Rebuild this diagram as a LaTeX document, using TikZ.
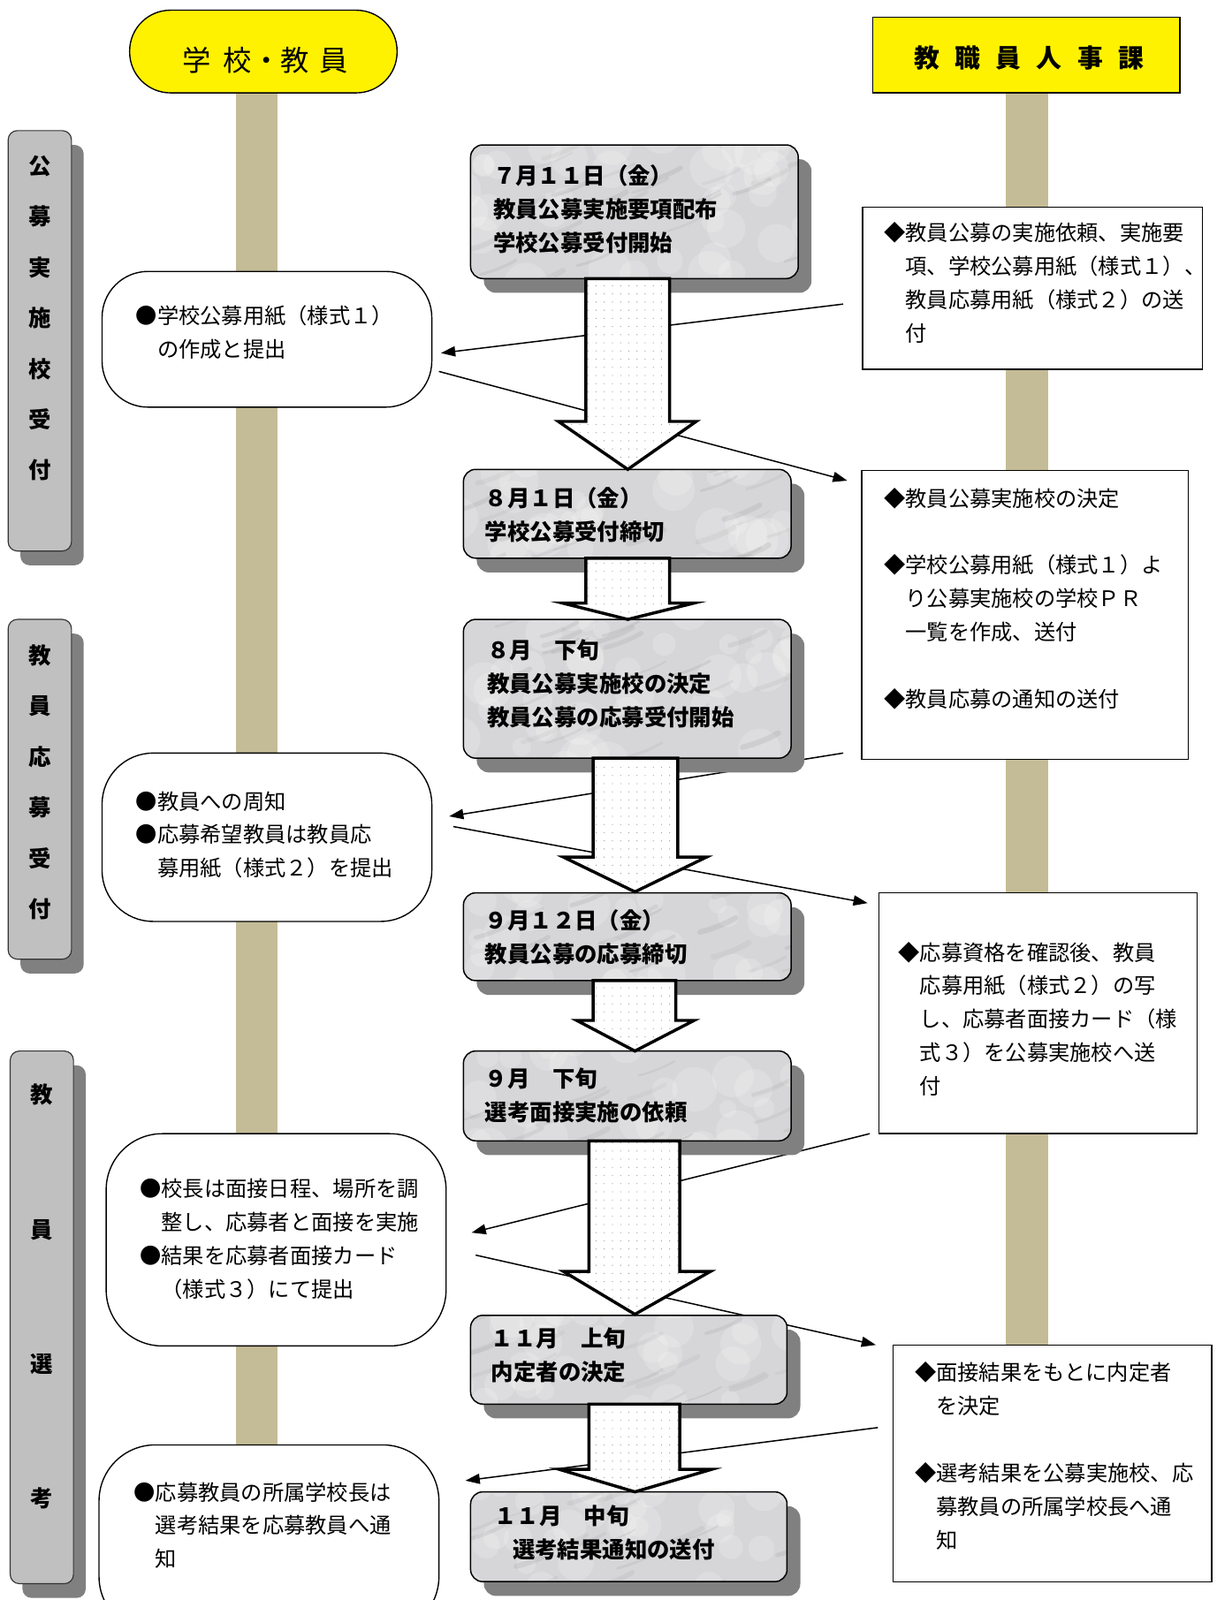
\documentclass[tikz,border=0pt]{standalone}
\usepackage{fontspec}
\setmainfont{Noto Sans CJK JP}
\usetikzlibrary{arrows.meta,shadows,patterns.meta,calc}
\definecolor{polecol}{RGB}{196,188,150}
\definecolor{labgray}{RGB}{192,192,192}
\definecolor{shadowgray}{RGB}{128,128,128}
\definecolor{marble}{RGB}{214,214,216}
\tikzset{
  hdr/.style={draw=black, line width=1.2pt, fill=yellow, inner sep=0pt},
  seclabel/.style={draw=black!80, line width=1pt, fill=labgray, rounded corners=9pt,
    drop shadow={shadow xshift=12pt, shadow yshift=-14pt, fill=shadowgray, opacity=1}},
  sectxt/.style={inner sep=0pt, align=center},
  cbox/.style={draw=black, line width=1.3pt, fill=marble, rounded corners=12pt,
    drop shadow={shadow xshift=13pt, shadow yshift=-14pt, fill=shadowgray, opacity=1},
    path picture={
      \begin{scope}[shift={(path picture bounding box.center)}]
        \foreach \k in {1,...,40}{
          \pgfmathsetmacro\bx{rand*175}
          \pgfmathsetmacro\by{rand*80}
          \pgfmathsetmacro\br{8+14*rnd}
          \fill[white, opacity=0.18] (\bx,\by) circle (\br pt);
        }
        \foreach \k in {1,...,30}{
          \pgfmathsetmacro\ax{rand*175}
          \pgfmathsetmacro\ay{rand*80}
          \pgfmathsetmacro\lw{1.5+4*rnd}
          \pgfmathtruncatemacro\gg{40+30*rnd}
          \draw[black!\gg, opacity=0.10, line width=\lw pt, line cap=round]
            (\ax,\ay) .. controls +(12,-3) and +(-10,6) .. +(35,-14);
        }
      \end{scope}
    }},
  sidebox/.style={draw=black, line width=1.2pt, fill=white, inner sep=0pt},
  bodytxt/.style={anchor=north west, inner sep=0pt, align=left, font=\fontsize{21}{32.8}\selectfont},
  headtxt/.style={anchor=north west, inner sep=0pt, align=left, font=\fontsize{22}{33}\selectfont\bfseries},
  conn/.style={line width=1.3pt, -{Triangle[length=14pt,width=10pt]}},
  blockarrow/.style={draw=black, line width=3pt, line join=miter, preaction={fill=white},
    pattern={Dots[distance=8pt,radius=0.6pt]}, pattern color=black!35},
}
\begin{document}
\begin{tikzpicture}[x=1pt,y=-1pt]
\useasboundingbox (0,0) rectangle (1192,1568);
\clip (0,0) rectangle (1192,1568);

% lanes
\fill[polecol] (231,91) rectangle (272,1568);
\fill[polecol] (985,91) rectangle (1027,1320);

% connector end points
\coordinate (c1s) at (826,298); \coordinate (c1e) at (432,346);
\coordinate (c2s) at (430,364); \coordinate (c2e) at (830,471);
\coordinate (c3s) at (826,738); \coordinate (c3e) at (440,800);
\coordinate (c4s) at (444,810); \coordinate (c4e) at (850,885);
\coordinate (c5s) at (852,1111); \coordinate (c5e) at (462,1208);
\coordinate (c6s) at (466,1230); \coordinate (c6e) at (858,1318);
\coordinate (c7s) at (860,1399); \coordinate (c7e) at (456,1451);
\draw[conn] (c1s) -- (c1e);
\draw[conn] (c2s) -- (c2e);
\draw[conn] (c3s) -- (c3e);
\draw[conn] (c4s) -- (c4e);
\draw[conn] (c5s) -- (c5e);
\draw[conn] (c6s) -- (c6e);
\draw[conn] (c7s) -- (c7e);

% headers
\node[hdr, rounded corners=40pt, minimum width=262pt, minimum height=81pt] (hdrL) at (258,50.5) {};
\node[inner sep=0pt, font=\fontsize{28}{30}\selectfont] (hdrLt) at (260,59) {学\kern12pt 校・教\kern10pt 員};
\node[hdr, minimum width=301pt, minimum height=74pt] (hdrR) at (1005.5,54) {};
\node[inner sep=0pt, font=\fontsize{25}{30}\selectfont\bfseries] (hdrRt) at (1008,57) {教\kern15pt 職\kern15pt 員\kern15pt 人\kern15pt 事\kern15pt 課};

% section labels
\node[seclabel, minimum width=62pt, minimum height=412pt] (s1) at (39,334) {};
\node[seclabel, minimum width=62pt, minimum height=333pt] (s2) at (39,773.5) {};
\node[seclabel, minimum width=62pt, minimum height=522pt] (s3) at (41,1291) {};
\node[sectxt, font=\fontsize{22}{49.7}\selectfont\bfseries] (s1t) at (39,312) {公\\募\\実\\施\\校\\受\\付};
\node[sectxt, font=\fontsize{22}{49.7}\selectfont\bfseries] (s2t) at (39,766.5) {教\\員\\応\\募\\受\\付};
\node[sectxt, font=\fontsize{22}{131.7}\selectfont\bfseries] (s3t) at (41,1270.5) {教\\員\\選\\考};

% left boxes
\node[sidebox, rounded corners=45pt, minimum width=323pt, minimum height=133pt] (l1) at (261.5,332.5) {};
\node[sidebox, rounded corners=50pt, minimum width=323pt, minimum height=165pt] (l2) at (261.5,820.5) {};
\node[sidebox, rounded corners=55pt, minimum width=333pt, minimum height=208pt] (l3) at (270.5,1215) {};
\node[sidebox, rounded corners=55pt, minimum width=333pt, minimum height=184pt] (l4) at (263.5,1508) {};
\node[bodytxt] (l1t) at (133,294) {\strut●学校公募用紙（様式１）\\\hspace*{1em}の作成と提出};
\node[bodytxt] (l2t) at (133,770) {\strut●教員への周知\\●応募希望教員は教員応\\\hspace*{1em}募用紙（様式２）を提出};
\node[bodytxt] (l3t) at (137,1150) {\strut●校長は面接日程、場所を調\\\hspace*{1em}整し、応募者と面接を実施\\●結果を応募者面接カード\\\hspace*{1em}（様式３）にて提出};
\node[bodytxt] (l4t) at (131,1447) {\strut●応募教員の所属学校長は\\\hspace*{1em}選考結果を応募教員へ通\\\hspace*{1em}知};

% right boxes
\node[sidebox, minimum width=333pt, minimum height=159pt] (r1) at (1011.5,282.5) {};
\node[sidebox, minimum width=320pt, minimum height=283pt] (r2) at (1004,602.5) {};
\node[sidebox, minimum width=312pt, minimum height=236pt] (r3) at (1017,993) {};
\node[sidebox, minimum width=312pt, minimum height=232pt] (r4) at (1031,1434) {};
\node[bodytxt] (r1t) at (866,213) {\strut◆教員公募の実施依頼、実施要\\\hspace*{1em}項、学校公募用紙（様式１）、\\\hspace*{1em}教員応募用紙（様式２）の送\\\hspace*{1em}付};
\node[bodytxt] (r2t) at (866,473) {\strut◆教員公募実施校の決定\\[32.8pt]◆学校公募用紙（様式１）よ\\\hspace*{1em}り公募実施校の学校ＰＲ\\\hspace*{1em}一覧を作成、送付\\[32.8pt]◆教員応募の通知の送付};
\node[bodytxt] (r3t) at (880,918) {\strut◆応募資格を確認後、教員\\\hspace*{1em}応募用紙（様式２）の写\\\hspace*{1em}し、応募者面接カード（様\\\hspace*{1em}式３）を公募実施校へ送\\\hspace*{1em}付};
\node[bodytxt] (r4t) at (896,1330) {\strut◆面接結果をもとに内定者\\\hspace*{1em}を決定\\[32.8pt]◆選考結果を公募実施校、応\\\hspace*{1em}募教員の所属学校長へ通\\\hspace*{1em}知};

% centre boxes
\node[cbox, minimum width=321pt, minimum height=131pt] (b1) at (621.5,207.5) {};
\node[cbox, minimum width=321pt, minimum height=87pt] (b2) at (614.5,503.5) {};
\node[cbox, minimum width=321pt, minimum height=136pt] (b3) at (614.5,675) {};
\node[cbox, minimum width=321pt, minimum height=86pt] (b4) at (614.5,918) {};
\node[cbox, minimum width=321pt, minimum height=88pt] (b5) at (614.5,1074) {};
\node[cbox, minimum width=310pt, minimum height=87pt] (b6) at (616,1332.5) {};
\node[cbox, minimum width=310pt, minimum height=88pt] (b7) at (616,1506) {};
\node[headtxt] (b1t) at (483,157.3) {\strut ７月１１日（金）\\教員公募実施要項配布\\学校公募受付開始};
\node[headtxt] (b2t) at (475,473.3) {\strut ８月１日（金）\\学校公募受付締切};
\node[headtxt] (b3t) at (477,622.3) {\strut ８月　下旬\\教員公募実施校の決定\\教員公募の応募受付開始};
\node[headtxt] (b4t) at (475,887.3) {\strut ９月１２日（金）\\教員公募の応募締切};
\node[headtxt] (b5t) at (475,1042.3) {\strut ９月　下旬\\選考面接実施の依頼};
\node[headtxt] (b6t) at (481,1296.3) {\strut １１月　上旬\\内定者の決定};
\node[headtxt] (b7t) at (484,1470.3) {\strut １１月　中旬\\\hspace*{18pt}選考結果通知の送付};

% block arrows
\path[blockarrow] (574,273) -- (574,413) -- (547,413) -- (615,460) -- (682,413) -- (656,413) -- (656,273) -- cycle;
\path[blockarrow] (574,547) -- (574,591) -- (551,591) -- (615,607) -- (680,591) -- (656,591) -- (656,547) -- cycle;
\path[blockarrow] (581,743) -- (581,840) -- (552,840) -- (622,874) -- (692,840) -- (664,840) -- (664,743) -- cycle;
\path[blockarrow] (581,961) -- (581,1000) -- (565,1000) -- (622,1030) -- (680,1000) -- (662,1000) -- (662,961) -- cycle;
\path[blockarrow] (577,1118) -- (577,1246) -- (552,1246) -- (622,1288) -- (696,1246) -- (666,1246) -- (666,1118) -- cycle;
\path[blockarrow] (577,1376) -- (577,1440) -- (548,1440) -- (622,1462) -- (697,1440) -- (666,1440) -- (666,1376) -- cycle;
\end{tikzpicture}
\end{document}
